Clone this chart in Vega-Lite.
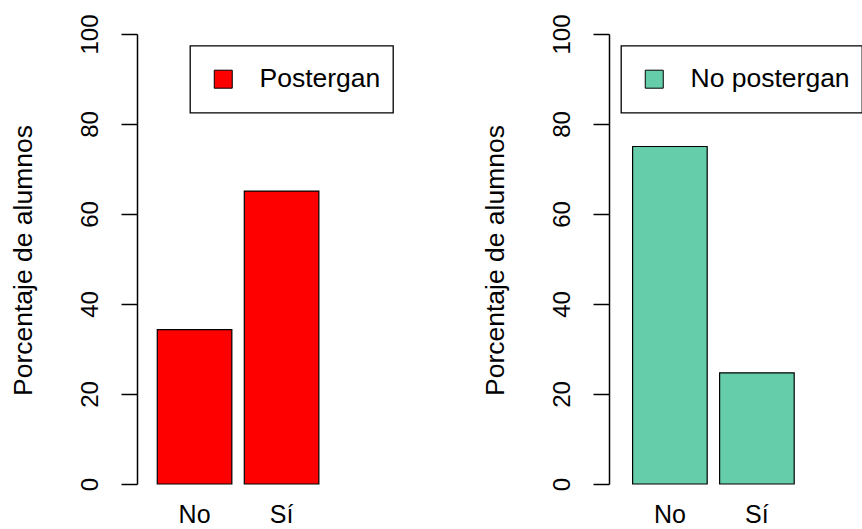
{
  "$schema": "https://vega.github.io/schema/vega-lite/v6.json",
  "background": "white",
  "padding": {"left": 9, "top": 13, "right": 0, "bottom": 0},
  "config": {
    "font": "Liberation Sans",
    "view": {"stroke": null},
    "axis": {
      "grid": false,
      "labelColor": "black",
      "titleColor": "black",
      "domainColor": "black",
      "tickColor": "black",
      "labelFont": "Liberation Sans",
      "titleFont": "Liberation Sans",
      "titleFontWeight": "normal"
    },
    "legend": {
      "strokeColor": "black",
      "strokeWidth": 1.3,
      "fillColor": "white",
      "padding": 12,
      "clipHeight": 43,
      "cornerRadius": 0,
      "symbolType": "square",
      "symbolSize": 324,
      "symbolStrokeColor": "black",
      "symbolStrokeWidth": 1,
      "symbolOffset": 8,
      "labelOffset": 23,
      "labelFontSize": 26.5,
      "labelFont": "Liberation Sans",
      "labelColor": "black",
      "labelLimit": 400
    }
  },
  "datasets": {
    "tabla": [
      {"grupo": "Postergan", "respuesta": "No", "porcentaje": 34.3},
      {"grupo": "Postergan", "respuesta": "Sí", "porcentaje": 65.1},
      {"grupo": "No postergan", "respuesta": "No", "porcentaje": 75.0},
      {"grupo": "No postergan", "respuesta": "Sí", "porcentaje": 24.7}
    ]
  },
  "spacing": 84,
  "resolve": {"scale": {"color": "independent", "x": "independent", "y": "independent"}, "legend": {"color": "independent"}},
  "hconcat": [
    {
      "width": 260,
      "height": 450,
      "data": {"name": "tabla"},
      "transform": [{"filter": "datum.grupo === 'Postergan'"}],
      "mark": {"type": "bar", "stroke": "black", "strokeWidth": 1.2},
      "encoding": {
        "x": {
          "field": "respuesta", "type": "nominal", "sort": ["No", "Sí"],
          "scale": {"paddingInner": 0.143, "paddingOuter": 0.5655, "align": 0.206},
          "axis": {"title": null, "labelAngle": 0, "domain": false, "ticks": false, "tickSize": 0, "labelFontSize": 25, "labelPadding": 38, "labelBaseline": "alphabetic"}
        },
        "y": {
          "field": "porcentaje", "type": "quantitative",
          "scale": {"domain": [0, 100], "nice": false},
          "axis": {"title": "Porcentaje de alumnos", "values": [0, 20, 40, 60, 80, 100], "tickSize": 16, "tickWidth": 1.5, "domainWidth": 1.5, "labelAngle": -90, "labelAlign": "center", "labelBaseline": "alphabetic", "labelPadding": 24, "labelFontSize": 24, "titleFontSize": 26.5, "titleAngle": -90, "titleBaseline": "alphabetic", "titleAlign": "center", "titleX": -106, "titleY": 226}
        },
        "color": {
          "field": "grupo", "type": "nominal",
          "scale": {"domain": ["Postergan"], "range": ["#FF0000"]},
          "legend": {"title": null, "orient": "none", "legendX": 53, "legendY": 11.7}
        }
      }
    },
    {
      "width": 251,
      "height": 450,
      "data": {"name": "tabla"},
      "transform": [{"filter": "datum.grupo === 'No postergan'"}],
      "mark": {"type": "bar", "stroke": "black", "strokeWidth": 1.2},
      "encoding": {
        "x": {
          "field": "respuesta", "type": "nominal", "sort": ["No", "Sí"],
          "scale": {"paddingInner": 0.143, "paddingOuter": 0.5138, "align": 0.264},
          "axis": {"title": null, "labelAngle": 0, "domain": false, "ticks": false, "tickSize": 0, "labelFontSize": 25, "labelPadding": 38, "labelBaseline": "alphabetic"}
        },
        "y": {
          "field": "porcentaje", "type": "quantitative",
          "scale": {"domain": [0, 100], "nice": false},
          "axis": {"title": "Porcentaje de alumnos", "values": [0, 20, 40, 60, 80, 100], "tickSize": 16, "tickWidth": 1.5, "domainWidth": 1.5, "labelAngle": -90, "labelAlign": "center", "labelBaseline": "alphabetic", "labelPadding": 24, "labelFontSize": 24, "titleFontSize": 26.5, "titleAngle": -90, "titleBaseline": "alphabetic", "titleAlign": "center", "titleX": -106, "titleY": 226}
        },
        "color": {
          "field": "grupo", "type": "nominal",
          "scale": {"domain": ["No postergan"], "range": ["#66CDAA"]},
          "legend": {"title": null, "orient": "none", "legendX": 12, "legendY": 11.7}
        }
      }
    }
  ]
}
